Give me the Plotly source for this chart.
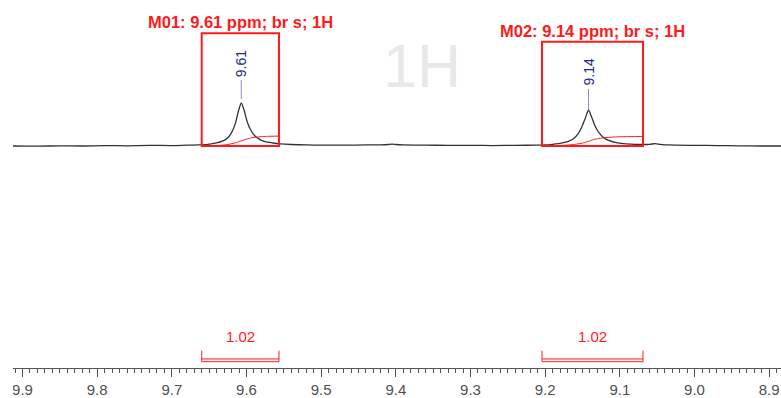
import plotly.graph_objects as go

# ---------------- data ----------------
spec_ppm = [9.913, 9.88, 9.85, 9.82, 9.79, 9.76, 9.73, 9.70, 9.68, 9.665, 9.655,
            9.650, 9.640, 9.630, 9.625, 9.620, 9.615, 9.611, 9.607, 9.603, 9.599,
            9.594, 9.589, 9.583, 9.575, 9.565, 9.555, 9.54, 9.52, 9.50, 9.47,
            9.44, 9.42, 9.41, 9.405, 9.40, 9.39, 9.36, 9.33, 9.30, 9.27, 9.24,
            9.21, 9.20, 9.19, 9.18, 9.17, 9.162, 9.156, 9.151, 9.146, 9.142,
            9.138, 9.133, 9.128, 9.122, 9.115, 9.105, 9.095, 9.085, 9.07, 9.06,
            9.053, 9.046, 9.035, 9.00, 8.97, 8.94, 8.91, 8.884]
spec_int = [0.00, -0.005, 0.005, 0.0, 0.01, 0.005, 0.015, 0.01, 0.02, 0.025, 0.03,
            0.045, 0.07, 0.13, 0.19, 0.31, 0.52, 0.80, 1.00, 0.82, 0.56,
            0.36, 0.24, 0.16, 0.10, 0.07, 0.05, 0.035, 0.025, 0.02, 0.02,
            0.025, 0.025, 0.035, 0.045, 0.035, 0.025, 0.02, 0.015, 0.015, 0.01, 0.015,
            0.02, 0.025, 0.04, 0.06, 0.10, 0.17, 0.28, 0.44, 0.66, 0.84,
            0.68, 0.46, 0.31, 0.20, 0.13, 0.08, 0.055, 0.045, 0.035, 0.04,
            0.055, 0.04, 0.025, 0.015, 0.01, 0.005, 0.0, 0.0]

int1_ppm = [9.660, 9.645, 9.635, 9.625, 9.618, 9.612, 9.607, 9.602, 9.596, 9.590, 9.582, 9.572, 9.5565]
int1_val = [0.0, 0.005, 0.015, 0.035, 0.06, 0.09, 0.12, 0.15, 0.18, 0.20, 0.215, 0.225, 0.23]
int2_ppm = [9.2043, 9.19, 9.175, 9.162, 9.152, 9.146, 9.142, 9.137, 9.130, 9.122, 9.112, 9.10, 9.069]
int2_val = [0.0, 0.005, 0.015, 0.035, 0.06, 0.085, 0.11, 0.14, 0.17, 0.19, 0.205, 0.215, 0.22]

peak_ppm = [9.607, 9.142]
peak_labels = ["9.61", "9.14"]
mult_labels = ["M01: 9.61 ppm; br s; 1H", "M02: 9.14 ppm; br s; 1H"]
mult_ranges = [(9.660, 9.5565), (9.2043, 9.069)]
integrals = ["1.02", "1.02"]

# ---------------- figure ----------------
FONT = "Arial, Liberation Sans, sans-serif"
RED = "#ff1a1a"
XR = [9.9127, 8.8842]
YR = [-5.1628, 3.3953]

fig = go.Figure()
fig.add_trace(go.Scatter(x=spec_ppm, y=spec_int, mode="lines",
                         line=dict(color="#333333", width=1.3, shape="spline", smoothing=0.6),
                         hoverinfo="skip", showlegend=False))
for xs, ys in [(int1_ppm, int1_val), (int2_ppm, int2_val)]:
    fig.add_trace(go.Scatter(x=xs, y=ys, mode="lines",
                             line=dict(color=RED, width=1, shape="spline", smoothing=0.6),
                             hoverinfo="skip", showlegend=False))

box_tops = [2.62, 2.426]
mlab_y = [2.891, 2.686]
plab_y = [1.907, 1.721]
pline = [(1.535, 1.093), (1.326, 0.860)]
for i in range(2):
    a, b = mult_ranges[i]
    fig.add_shape(type="rect", x0=a, x1=b, y0=0.0, y1=box_tops[i],
                  line=dict(color=RED, width=2), layer="above")
    fig.add_annotation(x=(a + b) / 2, y=mlab_y[i], text="<b>%s</b>" % mult_labels[i],
                       showarrow=False, font=dict(family=FONT, size=16.5, color=RED),
                       xanchor="center", yanchor="middle")
    # peak label
    fig.add_annotation(x=peak_ppm[i], y=plab_y[i], text=peak_labels[i], textangle=-90,
                       showarrow=False, font=dict(family=FONT, size=14, color="#1c2a86"),
                       xanchor="center", yanchor="middle")
    fig.add_shape(type="line", x0=peak_ppm[i], x1=peak_ppm[i], y0=pline[i][0], y1=pline[i][1],
                  line=dict(color="#8c8cc8", width=1))
    # integration bracket
    fig.add_shape(type="path",
                  path="M %f %f L %f %f L %f %f L %f %f" % (a, -4.760, a, -5.016, b, -5.016, b, -4.760),
                  line=dict(color=RED, width=1))
    fig.add_shape(type="line", x0=a, x1=b, y0=-4.953, y1=-4.953, line=dict(color=RED, width=1))
    fig.add_annotation(x=(a + b) / 2, y=-4.419, text=integrals[i], showarrow=False,
                       font=dict(family=FONT, size=15, color=RED),
                       xanchor="center", yanchor="middle")

fig.add_annotation(x=9.365, y=1.86, text="1H", showarrow=False,
                   font=dict(family=FONT, size=61, color="#e8e8e8"),
                   xanchor="center", yanchor="middle")

# white mask clipping the left edge
fig.add_shape(type="rect", xref="paper", yref="paper", x0=-0.03, x1=0, y0=-0.1, y1=-0.003,
              fillcolor="white", line=dict(width=0), layer="above")

fig.update_layout(
    width=781, height=398,
    margin=dict(l=13, r=0, t=0, b=30),
    paper_bgcolor="white", plot_bgcolor="white",
    xaxis=dict(range=XR, showgrid=False, zeroline=False, showline=True,
               linecolor="#555555", linewidth=1,
               ticks="outside", ticklen=8, tickcolor="#555555", tickwidth=1,
               dtick=0.1, tick0=9.9, tickformat=".1f",
               tickfont=dict(family=FONT, size=15, color="#505050"),
               minor=dict(ticks="outside", dtick=0.01, ticklen=4, tickcolor="#555555", tickwidth=1)),
    xaxis2=dict(range=XR, overlaying="x", anchor="y", side="bottom", showgrid=False,
                zeroline=False, showline=False, showticklabels=False,
                ticks="outside", ticklen=6, tickcolor="#555555", tickwidth=1,
                dtick=0.05, tick0=9.9),
    yaxis=dict(range=YR, visible=False, showgrid=False, zeroline=False),
    showlegend=False,
)

fig.write_html("out.html", config={"displayModeBar": False},
               post_script="document.body.style.margin='0px';")
